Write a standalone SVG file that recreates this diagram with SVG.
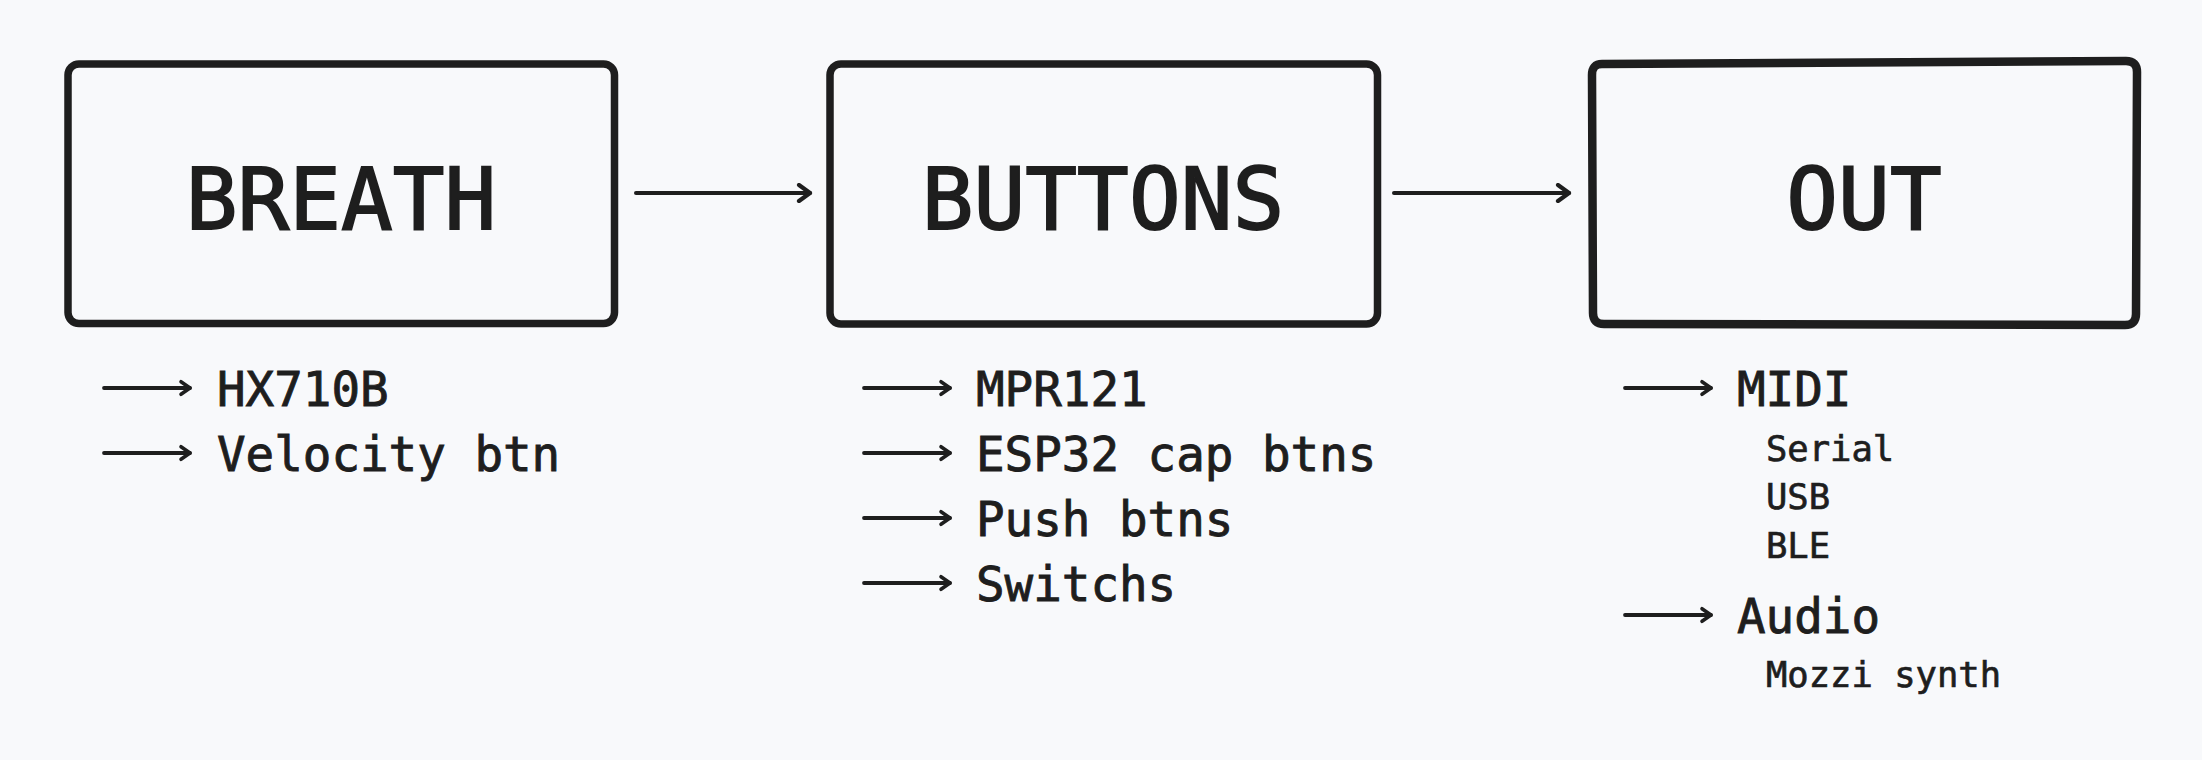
<svg xmlns="http://www.w3.org/2000/svg" width="2202" height="760" viewBox="0 0 2202 760">
  <style>
    .box { fill: #f8f9fb; stroke: #1e1e1e; stroke-width: 7.5; stroke-linejoin: round; }
    .title { font-family: "DejaVu Sans Mono", "Liberation Mono", monospace; font-size: 86px; fill: #1e1e1e; stroke: #1e1e1e; stroke-width: 1.8; text-anchor: middle; }
    .item { font-family: "DejaVu Sans Mono", "Liberation Mono", monospace; font-size: 47.5px; fill: #1e1e1e; stroke: #1e1e1e; stroke-width: 0.9; }
    .sub { font-family: "DejaVu Sans Mono", "Liberation Mono", monospace; font-size: 35.5px; fill: #1e1e1e; stroke: #1e1e1e; stroke-width: 0.7; }
    .conn { stroke: #1e1e1e; stroke-width: 4; fill: none; stroke-linecap: round; }
    .small { stroke: #1e1e1e; stroke-width: 3.8; fill: none; stroke-linecap: round; }
  </style>
  <defs>
    <marker id="arr" viewBox="0 0 20 20" refX="14" refY="10" markerWidth="20" markerHeight="20" markerUnits="userSpaceOnUse" orient="auto">
      <path d="M3,2 L14,10 L3,18" fill="none" stroke="#1e1e1e" stroke-width="4.2" stroke-linecap="round" stroke-linejoin="round"/>
    </marker>
    <marker id="arrs" viewBox="0 0 20 20" refX="14" refY="10" markerWidth="18" markerHeight="18" markerUnits="userSpaceOnUse" orient="auto">
      <path d="M4,3 L14,10 L4,17" fill="none" stroke="#1e1e1e" stroke-width="4" stroke-linecap="round" stroke-linejoin="round"/>
    </marker>
  </defs>
  <rect width="2202" height="760" fill="#f8f9fb"/>

  <g id="node-breath">
    <rect class="box" x="68" y="64" width="546.5" height="259.5" rx="11"/>
    <text class="title" x="341" y="229">BREATH</text>
  </g>
  <g id="node-buttons">
    <rect class="box" x="830" y="64" width="547.5" height="260" rx="11"/>
    <text class="title" x="1103" y="229">BUTTONS</text>
  </g>
  <g id="node-out">
    <path class="box" style="stroke-width:8.5" d="M1602,64 L2126,61 Q2137,61 2137,72 L2136,314 Q2136,325 2125,325 L1604,324 Q1593,324 1593,313 L1592,75 Q1592,64 1602,64 Z"/>
    <text class="title" x="1864" y="229">OUT</text>
  </g>

  <g id="connectors">
    <line class="conn" x1="636" y1="193" x2="810" y2="193" marker-end="url(#arr)"/>
    <line class="conn" x1="1394" y1="193" x2="1569" y2="193" marker-end="url(#arr)"/>

    <line class="small" x1="104" y1="388" x2="190" y2="388" marker-end="url(#arrs)"/>
    <line class="small" x1="104" y1="453" x2="190" y2="453" marker-end="url(#arrs)"/>

    <line class="small" x1="864" y1="388" x2="950" y2="388" marker-end="url(#arrs)"/>
    <line class="small" x1="864" y1="453" x2="950" y2="453" marker-end="url(#arrs)"/>
    <line class="small" x1="864" y1="518" x2="950" y2="518" marker-end="url(#arrs)"/>
    <line class="small" x1="864" y1="583" x2="950" y2="583" marker-end="url(#arrs)"/>

    <line class="small" x1="1625" y1="388" x2="1711" y2="388" marker-end="url(#arrs)"/>
    <line class="small" x1="1625" y1="615" x2="1711" y2="615" marker-end="url(#arrs)"/>
  </g>

  <g id="breath-items">
    <text class="item" x="217" y="406">HX710B</text>
    <text class="item" x="217" y="471">Velocity btn</text>
  </g>
  <g id="buttons-items">
    <text class="item" x="976" y="406">MPR121</text>
    <text class="item" x="976" y="471">ESP32 cap btns</text>
    <text class="item" x="976" y="536">Push btns</text>
    <text class="item" x="976" y="601">Switchs</text>
  </g>
  <g id="out-items">
    <text class="item" x="1737" y="406">MIDI</text>
    <text class="sub" x="1766" y="461">Serial</text>
    <text class="sub" x="1766" y="509">USB</text>
    <text class="sub" x="1766" y="558">BLE</text>
    <text class="item" x="1737" y="633">Audio</text>
    <text class="sub" x="1766" y="687">Mozzi synth</text>
  </g>
</svg>
